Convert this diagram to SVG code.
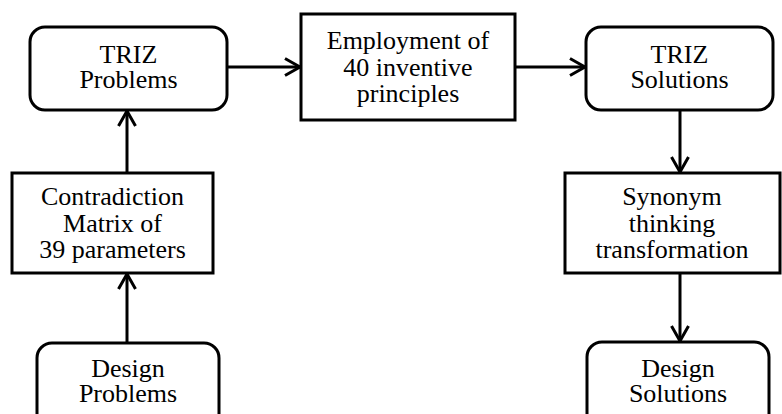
<svg xmlns="http://www.w3.org/2000/svg" width="782" height="414" viewBox="0 0 782 414">
<defs>
<style>
.box{fill:#fff;stroke:#000;stroke-width:3}
.t{font-family:"Liberation Serif","Times New Roman",serif;font-size:26px;fill:#000;text-anchor:middle}
.c{stroke:#000;stroke-width:3;fill:none}
</style>
<marker id="ah" viewBox="0 0 20 20" refX="17" refY="10" markerWidth="20" markerHeight="20" markerUnits="userSpaceOnUse" orient="auto">
<path d="M2,1.5 L17,10 L2,18.5" fill="none" stroke="#000" stroke-width="3"/>
</marker>
</defs>
<rect width="782" height="414" fill="#fff"/>
<g id="connectors">
<line class="c" x1="227" y1="67" x2="300" y2="67" marker-end="url(#ah)"/>
<line class="c" x1="515" y1="67" x2="585" y2="67" marker-end="url(#ah)"/>
<line class="c" x1="127" y1="173" x2="127" y2="111" marker-end="url(#ah)"/>
<line class="c" x1="127" y1="342" x2="127" y2="274" marker-end="url(#ah)"/>
<line class="c" x1="680" y1="110" x2="680" y2="172" marker-end="url(#ah)"/>
<line class="c" x1="680" y1="273" x2="680" y2="341" marker-end="url(#ah)"/>
</g>
<g id="triz-problems">
<rect class="box" x="30" y="27" width="197" height="83" rx="15"/>
<text class="t" x="128.5" y="63">TRIZ<tspan x="128.5" dy="25">Problems</tspan></text>
</g>
<g id="employment">
<rect class="box" x="301" y="14" width="214" height="106"/>
<text class="t" x="408" y="49">Employment of<tspan x="408" dy="27">40 inventive</tspan><tspan x="408" dy="26">principles</tspan></text>
</g>
<g id="triz-solutions">
<rect class="box" x="586" y="27" width="187" height="83" rx="15"/>
<text class="t" x="679.5" y="63">TRIZ<tspan x="679.5" dy="25">Solutions</tspan></text>
</g>
<g id="contradiction">
<rect class="box" x="12" y="173" width="201" height="100"/>
<text class="t" x="112.5" y="205">Contradiction<tspan x="112.5" dy="27">Matrix of</tspan><tspan x="112.5" dy="26">39 parameters</tspan></text>
</g>
<g id="synonym">
<rect class="box" x="565" y="173" width="215" height="100"/>
<text class="t" x="672" y="205">Synonym<tspan x="672" dy="27">thinking</tspan><tspan x="672" dy="26">transformation</tspan></text>
</g>
<g id="design-problems">
<rect class="box" x="37" y="343" width="182" height="90" rx="15"/>
<text class="t" x="128" y="377">Design<tspan x="128" dy="25">Problems</tspan></text>
</g>
<g id="design-solutions">
<rect class="box" x="587" y="342" width="182" height="90" rx="15"/>
<text class="t" x="678" y="377">Design<tspan x="678" dy="25">Solutions</tspan></text>
</g>
</svg>
